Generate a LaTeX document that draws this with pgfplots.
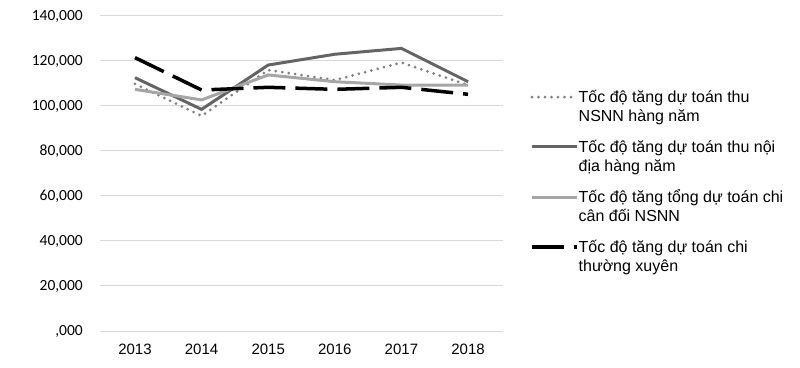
\documentclass[border=0pt]{standalone}
\usepackage{fontspec}
\setmainfont{Liberation Sans}
\newfontfamily\carlito{Carlito}
\usepackage{pgfplots}
\pgfplotsset{compat=1.18}
\definecolor{cdot}{HTML}{7F7F7F}
\definecolor{cdark}{HTML}{646464}
\definecolor{clight}{HTML}{A6A6A6}
\definecolor{gridc}{HTML}{D9D9D9}
\begin{document}
\begin{tikzpicture}
\useasboundingbox (0,0) rectangle (800bp,368bp);
\begin{axis}[
  at={(100bp,37bp)}, anchor=south west,
  scale only axis, width=403bp, height=315bp,
  xmin=-0.525, xmax=5.525, ymin=0, ymax=140000,
  scaled y ticks=false,
  xtick={0,1,2,3,4,5},
  xticklabels={2013,2014,2015,2016,2017,2018},
  ytick={0,20000,40000,60000,80000,100000,120000,140000},
  yticklabels={{,000},{20,000},{40,000},{60,000},{80,000},{100,000},{120,000},{140,000}},
  axis line style={draw=none},
  major tick length=0pt,
  ymajorgrids,
  grid style={draw=gridc, line width=1bp},
  xticklabel style={font=\fontsize{15bp}{18bp}\selectfont, inner sep=0pt, yshift=-13bp},
  yticklabel style={font=\carlito\fontsize{15.5bp}{18bp}\selectfont, inner sep=0pt, xshift=-17bp},
  legend style={at={(1.067,0.765)}, anchor=north west, draw=none, fill=none,
    inner sep=0pt, row sep=17bp,
    font=\fontsize{16bp}{19bp}\selectfont,
    cells={anchor=west, align=left},
    nodes={inner sep=0pt, xshift=5bp}},
  legend image code/.code={\draw[#1] (0bp,9.5bp) -- (45bp,9.5bp);},
]
\addplot[cdot, line width=3bp, line cap=round, dash pattern=on 0bp off 6.5bp] coordinates {(0,109800) (1,95600) (2,116000) (3,111500) (4,119300) (5,109300)};
\addlegendentry{Tốc độ tăng dự toán thu\\NSNN hàng năm}
\addplot[cdark, line width=3bp] coordinates {(0,112600) (1,98500) (2,118200) (3,123000) (4,125600) (5,110800)};
\addlegendentry{Tốc độ tăng dự toán thu nội\\địa hàng năm}
\addplot[clight, line width=3bp] coordinates {(0,107400) (1,102700) (2,113800) (3,110800) (4,109300) (5,109300)};
\addlegendentry{Tốc độ tăng tổng dự toán chi\\cân đối NSNN}
\addplot[black, line width=3.5bp, dash pattern=on 32bp off 10bp] coordinates {(0,121500) (1,107100) (2,108300) (3,107400) (4,108300) (5,105200)};
\addlegendentry{Tốc độ tăng dự toán chi\\thường xuyên}
\end{axis}
\end{tikzpicture}
\end{document}
